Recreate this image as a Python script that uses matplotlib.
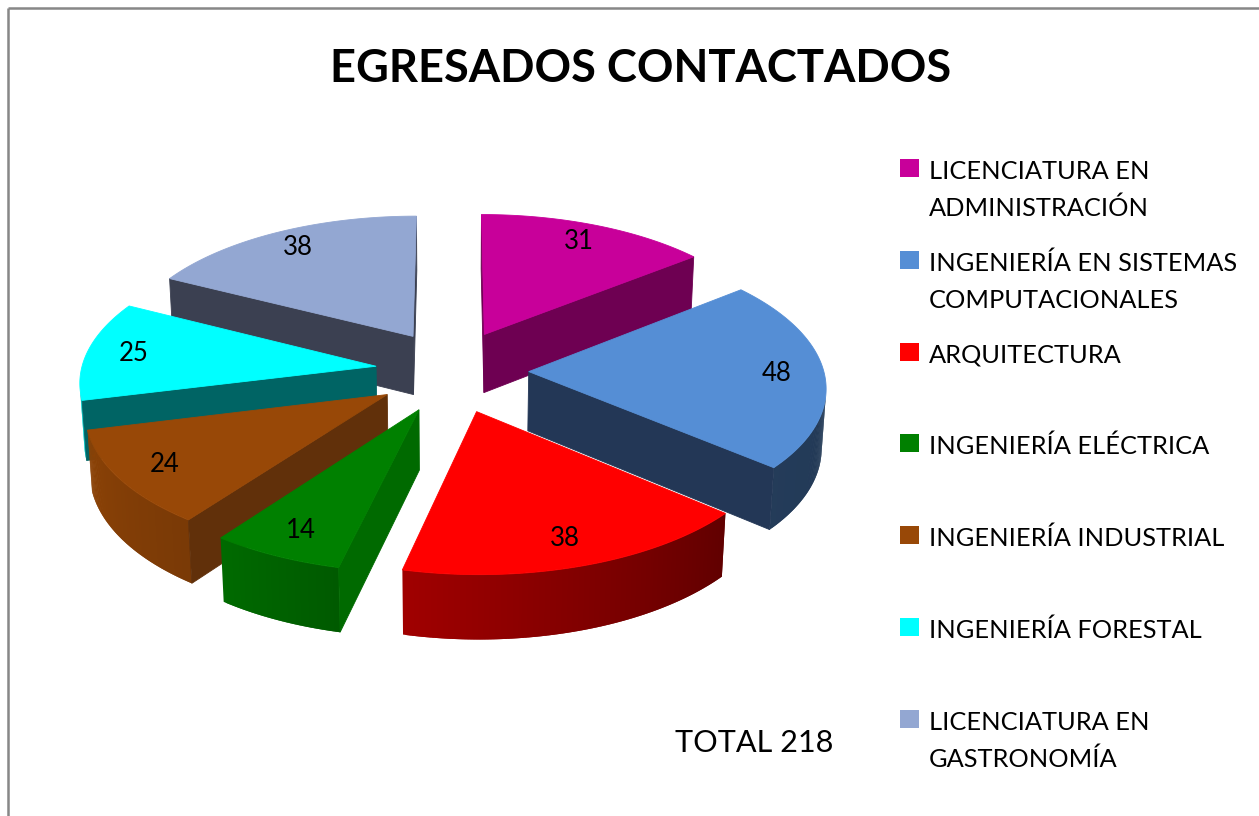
import numpy as np
import matplotlib
matplotlib.use("Agg")
import matplotlib.pyplot as plt
from matplotlib.patches import Polygon, Rectangle
from matplotlib.colors import to_rgb

plt.rcParams['font.family'] = ['Lato', 'DejaVu Sans']

# ---------------- data ----------------
title = "EGRESADOS CONTACTADOS"
categories = ["LICENCIATURA EN\nADMINISTRACIÓN",
              "INGENIERÍA EN SISTEMAS\nCOMPUTACIONALES",
              "ARQUITECTURA",
              "INGENIERÍA ELÉCTRICA",
              "INGENIERÍA INDUSTRIAL",
              "INGENIERÍA FORESTAL",
              "LICENCIATURA EN\nGASTRONOMÍA"]
values = [31, 48, 38, 14, 24, 25, 38]
total_text = "TOTAL 218"

# ---------------- styles ----------------
top_colors = ["#C8009A", "#558ED5", "#FF0000", "#008000", "#984807", "#00FFFF", "#93A7D2"]
radial_colors = ["#6E0052", "#233756", "#7A0000", "#006A00", "#61300A", "#006464", "#3B4051"]
# outer-wall shading (left end, right end) as brightness factors
wall_shades = [(0.5, 0.5), (0.42, 0.38), (0.63, 0.38), (0.83, 0.70),
               (0.92, 0.80), (0.85, 0.80), (0.5, 0.5)]

W, H = 1259, 816
fig = plt.figure(figsize=(W / 100, H / 100), dpi=100)
ax = fig.add_axes([0, 0, 1, 1])
ax.set_xlim(0, W)
ax.set_ylim(H, 0)
ax.axis('off')

# projection parameters
S = 295.0
CX, CY = 452.0, 371.0
EL = np.radians(28)
LCAM = 9.0
DEPTH = 0.23
EXX, EXY = 0.26, 0.30
ce, se = np.cos(EL), np.sin(EL)
cam = np.array([0.0, -LCAM * ce, LCAM * se])


def project(X, Y, Z):
    X = np.asarray(X, float); Y = np.asarray(Y, float); Z = np.asarray(Z, float)
    w = LCAM + Y * ce - Z * se
    f = LCAM / w
    return CX + S * X * f, CY - S * (Y * se + Z * ce) * f


def poly(xs, ys, color, z, lw=0.6):
    p = Polygon(np.column_stack([xs, ys]), closed=True, facecolor=color,
                edgecolor=color if lw > 0 else 'none', linewidth=lw, zorder=z)
    ax.add_patch(p)


def shade(color, f):
    r, g, b = to_rgb(color)
    return (min(r * f, 1), min(g * f, 1), min(b * f, 1))


total = sum(values)
fr = np.array(values) / total
cum = np.concatenate([[0], np.cumsum(fr)])
slices = []
for i, v in enumerate(values):
    a_start = np.pi / 2 - 2 * np.pi * cum[i]      # clockwise from 12 o'clock
    a_end = np.pi / 2 - 2 * np.pi * cum[i + 1]
    t1, t2 = a_end, a_start                         # ccw order
    m = (t1 + t2) / 2
    ox, oy = EXX * np.cos(m), EXY * np.sin(m)
    depth_key = LCAM + (oy + 0.5 * np.sin(m)) * ce
    slices.append((depth_key, i, t1, t2, m, ox, oy))

slices.sort(key=lambda s: -s[0])

z = 2
for _, i, t1, t2, m, ox, oy in slices:
    n = max(int(np.degrees(t2 - t1) * 2), 8)
    ts = np.linspace(t1, t2, n + 1)
    rx = ox + np.cos(ts)
    ry = oy + np.sin(ts)
    # outer wall: visibility per segment
    vis = []
    for j in range(n):
        tm = 0.5 * (ts[j] + ts[j + 1])
        P = np.array([ox + np.cos(tm), oy + np.sin(tm), -DEPTH / 2])
        nrm = np.array([np.cos(tm), np.sin(tm), 0])
        vis.append(np.dot(nrm, cam - P) > 0)
    fl, frr = wall_shades[i]
    for j in range(n):
        if not vis[j]:
            continue
        k = j + 2 if (j + 1 < n and vis[j + 1]) else j + 1
        tm = 0.5 * (ts[j] + ts[j + 1])
        xa, ya = project([rx[j], rx[k], rx[k], rx[j]],
                         [ry[j], ry[k], ry[k], ry[j]],
                         [0, 0, -DEPTH, -DEPTH])
        f = fl + (frr - fl) * (tm - t1) / (t2 - t1)
        poly(xa, ya, shade(top_colors[i], f), z, lw=0)
    # radial walls
    for t, na in ((t1, t1 - np.pi / 2), (t2, t2 + np.pi / 2)):
        P = np.array([ox + 0.5 * np.cos(t), oy + 0.5 * np.sin(t), -DEPTH / 2])
        nrm = np.array([np.cos(na), np.sin(na), 0])
        if np.dot(nrm, cam - P) > 0:
            ex, ey = ox + np.cos(t), oy + np.sin(t)
            xa, ya = project([ox, ex, ex, ox], [oy, ey, ey, oy],
                             [0, 0, -DEPTH, -DEPTH])
            poly(xa, ya, radial_colors[i], z + 0.2)
    # top face
    xa, ya = project(np.concatenate([[ox], rx]), np.concatenate([[oy], ry]),
                     np.zeros(n + 2))
    poly(xa, ya, top_colors[i], z + 0.5)
    # value label
    lx, ly = project(ox + 0.84 * np.cos(m), oy + 0.84 * np.sin(m), 0)
    ax.text(lx, ly, str(values[i]), ha='center', va='center', fontsize=18.5,
            color='black', zorder=z + 0.7)
    z += 1

# frame
ax.plot([8, 8], [H, 8], color='#878787', lw=1.8, solid_capstyle='butt', zorder=1)
ax.plot([8, W], [8, 8], color='#878787', lw=1.8, solid_capstyle='butt', zorder=1)

fig.canvas.draw()
renderer = fig.canvas.get_renderer()


def fit_width(txt, width):
    bb = txt.get_window_extent(renderer)
    txt.set_fontsize(txt.get_fontsize() * width / bb.width)


# title
tt = ax.text(641, 82, title, ha='center', va='baseline', fontsize=34,
             fontweight='bold', color='black')
fit_width(tt, 622)

# total
tot = ax.text(675, 752, total_text, ha='left', va='baseline', fontsize=18, color='black')
fit_width(tot, 158)

# legend
base0 = 179.0
step = 91.8
for i, lab in enumerate(categories):
    b = base0 + i * step
    ax.add_patch(Rectangle((900, b - 20), 19, 18, facecolor=top_colors[i],
                           edgecolor='none', zorder=5))
    for k, line in enumerate(lab.split("\n")):
        ax.text(929, b + k * 37, line, ha='left', va='baseline', fontsize=18.3,
                color='black', zorder=5)

fig.savefig("out.png", dpi=100)
